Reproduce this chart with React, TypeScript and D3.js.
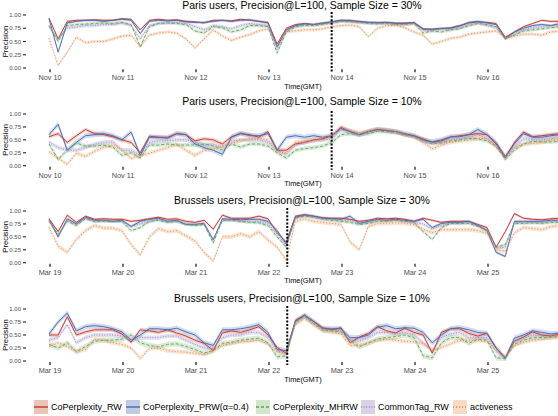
import React from 'react';
import * as d3 from 'd3';

// ---------- data ----------
const SERIES = ['CoPerplexity_RW', 'CoPerplexity_PRW(α=0.4)', 'CoPerplexity_MHRW', 'CommonTag_RW', 'activeness'];
const HOURS = d3.range(0, 169, 3); // hours since first midnight (GMT), 3-hour samples

const TITLES = [
  'Paris users, Precision@L=100, Sample Size = 30%',
  'Paris users, Precision@L=100, Sample Size = 10%',
  'Brussels users, Precision@L=100, Sample Size = 30%',
  'Brussels users, Precision@L=100, Sample Size = 10%',
];
const PARIS_DAYS = ['Nov 10', 'Nov 11', 'Nov 12', 'Nov 13', 'Nov 14', 'Nov 15', 'Nov 16'];
const BRUSSELS_DAYS = ['Mar 19', 'Mar 20', 'Mar 21', 'Mar 22', 'Mar 23', 'Mar 24', 'Mar 25'];
const DAY_HOURS = [0, 24, 48, 72, 96, 120, 144];
const EVENT_HOURS = [92.6, 92.6, 78, 78];
const Y_TICKS = [0, 0.25, 0.5, 0.75, 1];

const P1_RW = [0.94,0.55,0.88,0.9,0.9,0.91,0.9,0.9,0.93,0.92, 0.72,0.9,0.92,0.9,0.91,0.88,0.87,0.85,0.9,0.9, 0.89,0.92,0.9,0.88,0.86,0.45,0.75,0.82,0.84,0.82, 0.84,0.87,0.9,0.89,0.88,0.86,0.85,0.86,0.85,0.84, 0.86,0.74,0.73,0.74,0.76,0.8,0.85,0.87,0.86,0.84, 0.58,0.68,0.78,0.84,0.9,0.88,0.88];
const P1_PRW = [0.93,0.3,0.85,0.88,0.9,0.9,0.88,0.9,0.92,0.9, 0.65,0.88,0.9,0.89,0.9,0.87,0.86,0.86,0.88,0.9, 0.88,0.9,0.91,0.88,0.85,0.4,0.72,0.8,0.83,0.82, 0.85,0.87,0.9,0.9,0.87,0.86,0.86,0.86,0.84,0.85, 0.85,0.73,0.73,0.75,0.75,0.79,0.86,0.88,0.85,0.82, 0.55,0.68,0.75,0.8,0.82,0.8,0.84];
const P1_MHRW = [0.8,0.5,0.8,0.82,0.83,0.84,0.85,0.84,0.86,0.82, 0.4,0.78,0.84,0.85,0.84,0.82,0.7,0.66,0.78,0.76, 0.68,0.72,0.8,0.8,0.78,0.28,0.68,0.78,0.8,0.8, 0.82,0.85,0.88,0.87,0.86,0.84,0.83,0.84,0.82,0.82, 0.84,0.66,0.7,0.68,0.72,0.74,0.8,0.84,0.82,0.78, 0.55,0.62,0.7,0.72,0.74,0.76,0.78];
const P1_CT = [0.78,0.55,0.75,0.77,0.8,0.8,0.82,0.82,0.85,0.8, 0.55,0.8,0.84,0.85,0.86,0.84,0.78,0.72,0.8,0.78, 0.74,0.8,0.84,0.82,0.8,0.35,0.7,0.78,0.82,0.82, 0.84,0.86,0.88,0.88,0.86,0.85,0.84,0.84,0.82,0.82, 0.84,0.72,0.7,0.74,0.72,0.76,0.82,0.85,0.8,0.76, 0.56,0.65,0.72,0.76,0.78,0.8,0.8];
const P1_ACT = [0.56,0.05,0.3,0.58,0.48,0.5,0.5,0.55,0.6,0.62, 0.4,0.62,0.66,0.68,0.66,0.55,0.38,0.55,0.72,0.6, 0.52,0.58,0.63,0.7,0.74,0.45,0.68,0.7,0.72,0.72, 0.74,0.78,0.8,0.81,0.78,0.59,0.75,0.8,0.81,0.76, 0.68,0.62,0.45,0.5,0.56,0.58,0.64,0.66,0.68,0.7, 0.58,0.6,0.64,0.64,0.62,0.68,0.7];

const P2_RW = [0.56,0.62,0.45,0.58,0.7,0.62,0.6,0.56,0.5,0.45, 0.25,0.57,0.55,0.55,0.62,0.6,0.48,0.52,0.5,0.42, 0.56,0.62,0.6,0.55,0.66,0.3,0.3,0.42,0.45,0.5, 0.52,0.58,0.74,0.66,0.6,0.66,0.7,0.68,0.66,0.6, 0.58,0.52,0.45,0.48,0.55,0.58,0.6,0.62,0.6,0.42, 0.15,0.45,0.65,0.56,0.58,0.6,0.62];
const P2_PRW = [0.6,0.8,0.3,0.45,0.58,0.6,0.62,0.58,0.5,0.65, 0.2,0.55,0.55,0.53,0.62,0.6,0.42,0.35,0.3,0.22, 0.55,0.63,0.58,0.58,0.62,0.3,0.55,0.58,0.55,0.58, 0.55,0.58,0.72,0.66,0.6,0.66,0.7,0.68,0.66,0.62, 0.58,0.5,0.46,0.5,0.56,0.56,0.6,0.7,0.6,0.45, 0.18,0.42,0.62,0.55,0.55,0.58,0.6];
const P2_MHRW = [0.42,0.12,0.3,0.44,0.38,0.38,0.4,0.36,0.2,0.25, 0.15,0.4,0.4,0.42,0.4,0.4,0.4,0.42,0.38,0.3, 0.42,0.36,0.42,0.42,0.38,0.25,0.15,0.3,0.33,0.35, 0.38,0.45,0.6,0.62,0.6,0.62,0.67,0.66,0.64,0.6, 0.56,0.48,0.43,0.44,0.48,0.5,0.53,0.52,0.48,0.38, 0.12,0.3,0.42,0.47,0.46,0.46,0.47];
const P2_CT = [0.45,0.35,0.3,0.3,0.35,0.42,0.45,0.46,0.3,0.3, 0.2,0.45,0.48,0.48,0.5,0.5,0.45,0.4,0.42,0.35, 0.48,0.5,0.5,0.5,0.45,0.3,0.22,0.4,0.45,0.48, 0.5,0.52,0.7,0.66,0.6,0.66,0.7,0.68,0.66,0.6, 0.56,0.48,0.44,0.46,0.5,0.52,0.55,0.6,0.52,0.4, 0.14,0.36,0.52,0.5,0.5,0.52,0.55];
const P2_ACT = [0.27,0.15,0.02,0.24,0.18,0.28,0.36,0.4,0.3,0.14, 0.2,0.24,0.3,0.35,0.42,0.3,0.2,0.3,0.33,0.38, 0.43,0.48,0.52,0.53,0.5,0.28,0.25,0.45,0.48,0.5, 0.52,0.58,0.74,0.68,0.64,0.66,0.72,0.7,0.66,0.6, 0.56,0.45,0.33,0.4,0.45,0.48,0.5,0.53,0.52,0.35, 0.18,0.35,0.42,0.43,0.45,0.5,0.5];

const P3_RW = [0.85,0.6,0.92,0.78,0.9,0.84,0.85,0.84,0.84,0.8, 0.82,0.85,0.88,0.84,0.85,0.8,0.78,0.82,0.65,0.92, 0.86,0.86,0.86,0.9,0.85,0.58,0.4,0.9,0.93,0.9, 0.87,0.86,0.86,0.84,0.8,0.82,0.86,0.85,0.86,0.84, 0.8,0.86,0.82,0.78,0.8,0.8,0.8,0.74,0.68,0.3, 0.6,0.95,0.86,0.84,0.83,0.85,0.86];
const P3_PRW = [0.84,0.5,0.85,0.75,0.88,0.82,0.82,0.8,0.82,0.7, 0.8,0.84,0.86,0.8,0.82,0.74,0.74,0.76,0.44,0.85, 0.84,0.83,0.84,0.84,0.8,0.62,0.36,0.88,0.92,0.9, 0.86,0.85,0.84,0.9,0.76,0.8,0.84,0.82,0.84,0.82, 0.8,0.84,0.68,0.76,0.78,0.78,0.8,0.72,0.62,0.2, 0.12,0.8,0.8,0.8,0.8,0.82,0.82];
const P3_MHRW = [0.8,0.55,0.8,0.72,0.85,0.8,0.8,0.8,0.8,0.62, 0.68,0.8,0.82,0.78,0.8,0.74,0.72,0.74,0.38,0.82, 0.82,0.8,0.78,0.77,0.72,0.5,0.3,0.86,0.9,0.88, 0.84,0.82,0.8,0.78,0.74,0.76,0.8,0.8,0.82,0.8, 0.78,0.6,0.45,0.68,0.76,0.76,0.76,0.7,0.62,0.3, 0.35,0.76,0.76,0.77,0.76,0.78,0.78];
const P3_CT = [0.82,0.5,0.82,0.75,0.86,0.8,0.82,0.8,0.8,0.7, 0.75,0.8,0.84,0.8,0.8,0.75,0.74,0.75,0.45,0.82, 0.82,0.8,0.8,0.8,0.76,0.55,0.33,0.88,0.92,0.88, 0.85,0.84,0.82,0.82,0.76,0.78,0.82,0.82,0.82,0.8, 0.78,0.75,0.65,0.72,0.76,0.76,0.78,0.72,0.64,0.28, 0.3,0.78,0.78,0.78,0.78,0.8,0.8];
const P3_ACT = [0.68,0.32,0.2,0.45,0.62,0.72,0.67,0.67,0.62,0.35, 0.15,0.5,0.66,0.6,0.62,0.52,0.42,0.2,0.03,0.5, 0.5,0.56,0.5,0.6,0.44,0.3,0.05,0.8,0.85,0.8, 0.78,0.76,0.74,0.4,0.25,0.7,0.76,0.76,0.77,0.76, 0.74,0.65,0.58,0.64,0.64,0.64,0.64,0.62,0.57,0.25, 0.22,0.58,0.68,0.66,0.64,0.7,0.72];

const P4_RW = [0.5,0.5,0.85,0.5,0.56,0.6,0.6,0.6,0.52,0.36, 0.6,0.58,0.55,0.6,0.54,0.48,0.4,0.34,0.2,0.54, 0.58,0.55,0.6,0.66,0.5,0.26,0.15,0.78,0.88,0.76, 0.64,0.6,0.64,0.35,0.46,0.53,0.66,0.58,0.54,0.63, 0.55,0.5,0.15,0.55,0.62,0.62,0.53,0.48,0.53,0.25, 0.06,0.38,0.46,0.56,0.5,0.48,0.52];
const P4_PRW = [0.52,0.75,0.92,0.58,0.66,0.68,0.66,0.62,0.56,0.4, 0.5,0.62,0.62,0.6,0.63,0.56,0.5,0.35,0.3,0.6, 0.6,0.62,0.65,0.7,0.55,0.22,0.2,0.76,0.88,0.76, 0.62,0.62,0.62,0.45,0.45,0.5,0.65,0.68,0.62,0.64, 0.63,0.55,0.35,0.5,0.62,0.64,0.6,0.55,0.53,0.25, 0.05,0.44,0.5,0.58,0.55,0.52,0.54];
const P4_MHRW = [0.32,0.25,0.35,0.18,0.28,0.38,0.4,0.4,0.42,0.5, 0.35,0.3,0.27,0.32,0.33,0.28,0.22,0.15,0.2,0.34, 0.36,0.4,0.42,0.44,0.35,0.08,0.1,0.74,0.86,0.72, 0.6,0.58,0.56,0.4,0.27,0.35,0.42,0.45,0.47,0.5, 0.45,0.1,0.06,0.35,0.45,0.45,0.34,0.42,0.4,0.06, 0.05,0.32,0.4,0.45,0.45,0.46,0.47];
const P4_CT = [0.4,0.45,0.7,0.35,0.45,0.5,0.5,0.5,0.48,0.4, 0.45,0.45,0.45,0.48,0.48,0.4,0.32,0.25,0.25,0.45, 0.5,0.5,0.55,0.55,0.45,0.2,0.15,0.75,0.86,0.74, 0.62,0.6,0.58,0.4,0.38,0.45,0.55,0.55,0.52,0.55, 0.5,0.35,0.2,0.45,0.52,0.55,0.45,0.45,0.45,0.18, 0.06,0.38,0.44,0.5,0.48,0.48,0.5];
const P4_ACT = [0.28,0.35,0.28,0.18,0.22,0.42,0.4,0.35,0.32,0.25, 0.05,0.24,0.25,0.2,0.18,0.17,0.15,0.12,0.2,0.3, 0.34,0.37,0.38,0.4,0.33,0.18,0.14,0.7,0.82,0.7, 0.58,0.56,0.52,0.3,0.3,0.34,0.4,0.42,0.4,0.38, 0.37,0.33,0.21,0.26,0.33,0.4,0.4,0.4,0.38,0.22, 0.08,0.3,0.36,0.4,0.42,0.45,0.48];

// half-width of the confidence ribbon per series, per panel
const BAND_P1 = [0.02, 0.025, 0.03, 0.03, 0.03];
const BAND_P2 = [0.04, 0.05, 0.04, 0.04, 0.04];
const BAND_P3 = [0.025, 0.03, 0.03, 0.03, 0.04];
const BAND_P4 = [0.04, 0.05, 0.05, 0.04, 0.04];

const PANEL_DATA = [
  { values: [P1_RW, P1_PRW, P1_MHRW, P1_CT, P1_ACT], bands: BAND_P1, days: PARIS_DAYS },
  { values: [P2_RW, P2_PRW, P2_MHRW, P2_CT, P2_ACT], bands: BAND_P2, days: PARIS_DAYS },
  { values: [P3_RW, P3_PRW, P3_MHRW, P3_CT, P3_ACT], bands: BAND_P3, days: BRUSSELS_DAYS },
  { values: [P4_RW, P4_PRW, P4_MHRW, P4_CT, P4_ACT], bands: BAND_P4, days: BRUSSELS_DAYS },
];

// ---------- style / layout ----------
const COLORS = ['#cc3a3a', '#4a6fb3', '#5aa65a', '#9585bd', '#e3874c'];
const FILLS = ['#d98a72', '#8097cf', '#93c48c', '#b2a3cf', '#efb184'];
const LEGEND_FILLS = ['#e6c6b7', '#c2cae3', '#d3e6cc', '#dbd1e6', '#f6dcc4'];
const DASHES = [undefined, undefined, '3,2', '1,1.6', '1,2'];
const WIDTHS = [1.0, 1.0, 0.9, 0.9, 1.0];
const TOPS = [15, 114, 211, 309];
const BOTS = [68, 165.7, 262.7, 361];
const TITLE_Y = [8.5, 105, 204, 301.7];
const LEGEND_X = [34, 126, 256, 361, 453];
const FONT = "'Liberation Sans', Arial, Helvetica, sans-serif";

function Panel({ pi }: { pi: number }) {
  const d = PANEL_DATA[pi];
  const x = d3.scaleLinear().domain([0, 168]).range([49, 560]);
  const y = d3.scaleLinear().domain([0, 1]).range([BOTS[pi], TOPS[pi]]);
  const line = (vals: number[]) =>
    d3.line<number>().x((_, i) => x(HOURS[i])).y((v) => y(v))(vals) || '';
  const area = (vals: number[], b: number) =>
    d3.area<number>().x((_, i) => x(HOURS[i])).y0((v) => y(Math.max(0, v - b))).y1((v) => y(Math.min(1, v + b)))(vals) || '';
  const fmt = d3.format('.2f');
  const top = TOPS[pi], bot = BOTS[pi];
  const panelBottom = bot + (bot - top) * 0.05;
  const mid = (top + bot) / 2;
  const xt = d3.scaleLinear().domain([0, 168]).range([50, 561]);
  return (
    <g>
      <text x={302} y={TITLE_Y[pi]} textAnchor="middle" fontSize={10.5} fill="#000">{TITLES[pi]}</text>
      {d.values.map((vals, si) => (
        <path key={'a' + si} d={area(vals, d.bands[si])} fill={FILLS[si]} fillOpacity={0.35} stroke="none" />
      ))}
      {d.values.map((vals, si) => (
        <path key={'l' + si} d={line(vals)} fill="none" stroke={COLORS[si]} strokeWidth={WIDTHS[si]}
          strokeDasharray={DASHES[si]} strokeLinejoin="round" />
      ))}
      <line x1={xt(EVENT_HOURS[pi])} x2={xt(EVENT_HOURS[pi])} y1={top - 3} y2={panelBottom + 1.5}
        stroke="#000" strokeWidth={2} strokeDasharray="2,1.6" />
      {Y_TICKS.map((t) => (
        <g key={'y' + t}>
          <line x1={23} x2={26} y1={y(t)} y2={y(t)} stroke="#222" strokeWidth={1.1} />
          <text x={21} y={y(t) + 2.1} textAnchor="end" fontSize={6} fill="#4d4d4d">{fmt(t)}</text>
        </g>
      ))}
      {DAY_HOURS.map((h, k) => (
        <g key={'x' + h}>
          <line x1={xt(h)} x2={xt(h)} y1={panelBottom - 1.5} y2={panelBottom + 1.5} stroke="#222" strokeWidth={1.3} />
          <text x={xt(h)} y={bot + 12} textAnchor="middle" fontSize={7.3} fill="#4d4d4d">{d.days[k]}</text>
        </g>
      ))}
      <text x={303} y={bot + 20.5} textAnchor="middle" fontSize={7.4} fill="#000">Time(GMT)</text>
      <text transform={`translate(8,${mid}) rotate(-90)`} textAnchor="middle" fontSize={7.7} fill="#000">Precision</text>
    </g>
  );
}

export default function App() {
  return (
    <div style={{ position: 'absolute', left: 0, top: 0 }}>
      <svg width={558} height={416} fontFamily={FONT} style={{ display: 'block', background: '#fff' }}>
        <rect x={0} y={0} width={558} height={416} fill="#fff" />
        {[0, 1, 2, 3].map((pi) => <Panel key={pi} pi={pi} />)}
        <g>
          {SERIES.map((s, si) => (
            <g key={s} transform={`translate(${LEGEND_X[si]},400)`}>
              <rect x={0} y={0} width={14} height={14} fill={LEGEND_FILLS[si]} />
              <line x1={0} x2={14} y1={7} y2={7} stroke={COLORS[si]} strokeWidth={WIDTHS[si] + 0.5} strokeDasharray={DASHES[si]} />
              <text x={17} y={10.3} fontSize={9} fill="#000">{s}</text>
            </g>
          ))}
        </g>
      </svg>
    </div>
  );
}
